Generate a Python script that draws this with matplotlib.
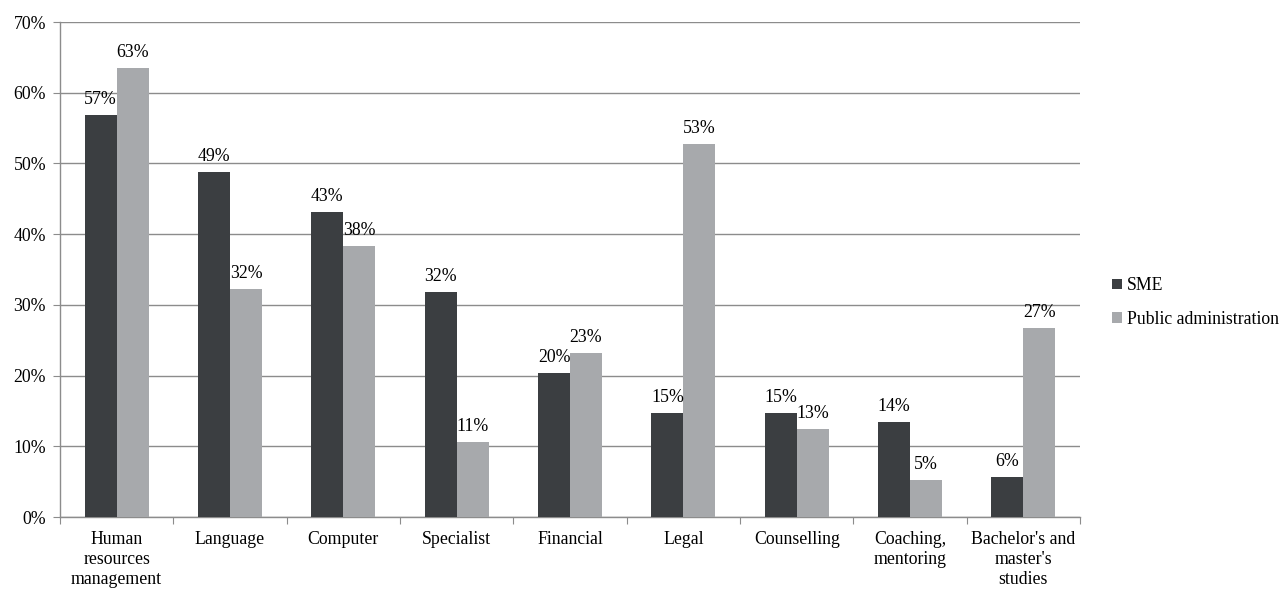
import numpy as np
import matplotlib
matplotlib.use("Agg")
import matplotlib.pyplot as plt

plt.rcParams['font.family'] = ['Liberation Serif', 'DejaVu Serif']

categories = ["Human\nresources\nmanagement", "Language", "Computer", "Specialist",
              "Financial", "Legal", "Counselling", "Coaching,\nmentoring",
              "Bachelor's and\nmaster's\nstudies"]
sme = [56.8, 48.8, 43.2, 31.8, 20.4, 14.7, 14.7, 13.5, 5.6]
public_admin = [63.5, 32.2, 38.3, 10.6, 23.2, 52.7, 12.4, 5.2, 26.7]
sme_labels = ["57%", "49%", "43%", "32%", "20%", "15%", "15%", "14%", "6%"]
pa_labels = ["63%", "32%", "38%", "11%", "23%", "53%", "13%", "5%", "27%"]

sme_col = "#3b3e41"
pa_col = "#a7a9ac"
axis_col = "#8c8c8c"
fs = 12.8

fig = plt.figure(figsize=(12.85, 5.9), dpi=100)
ax = fig.add_axes([0.0467, 0.1237, 0.7938, 0.839])

x = np.arange(len(categories))
w = 0.282
b1 = ax.bar(x - w/2, sme, w, color=sme_col, label="SME", zorder=3)
b2 = ax.bar(x + w/2, public_admin, w, color=pa_col, label="Public administration", zorder=3)

for rect, lab in zip(b1, sme_labels):
    ax.annotate(lab, (rect.get_x() + rect.get_width()/2, rect.get_height()),
                xytext=(0, 5), textcoords="offset points", ha="center", va="bottom",
                fontsize=fs, zorder=4)
for rect, lab in zip(b2, pa_labels):
    ax.annotate(lab, (rect.get_x() + rect.get_width()/2, rect.get_height()),
                xytext=(0, 5), textcoords="offset points", ha="center", va="bottom",
                fontsize=fs, zorder=4)

ax.set_xlim(-0.5, len(categories) - 0.5)
ax.set_ylim(0, 70)
ax.set_yticks(np.arange(0, 71, 10))
ax.set_yticklabels([f"{v}%" for v in range(0, 71, 10)], fontsize=fs)
ax.yaxis.grid(True, color=axis_col, linewidth=1.0, zorder=0)

ax.set_xticks(np.arange(-0.5, len(categories), 1.0))
ax.set_xticklabels([])
ax.set_xticks(x, minor=True)
ax.set_xticklabels(categories, minor=True, fontsize=fs, linespacing=1.25, va="top")
ax.tick_params(axis="x", which="major", length=5, color=axis_col, direction="out")
ax.tick_params(axis="x", which="minor", length=0, pad=10)
ax.tick_params(axis="y", length=5, color=axis_col, pad=5)

for s in ["top", "right"]:
    ax.spines[s].set_visible(False)
for s in ["left", "bottom"]:
    ax.spines[s].set_color(axis_col)
    ax.spines[s].set_linewidth(1.0)

fig.legend(handles=[b1, b2], loc="center left", bbox_to_anchor=(0.856, 0.487),
           frameon=False, fontsize=fs, handlelength=0.55, handleheight=0.55,
           handletextpad=0.25, labelspacing=0.95, borderpad=0.2)

fig.savefig("out.png", dpi=100)
